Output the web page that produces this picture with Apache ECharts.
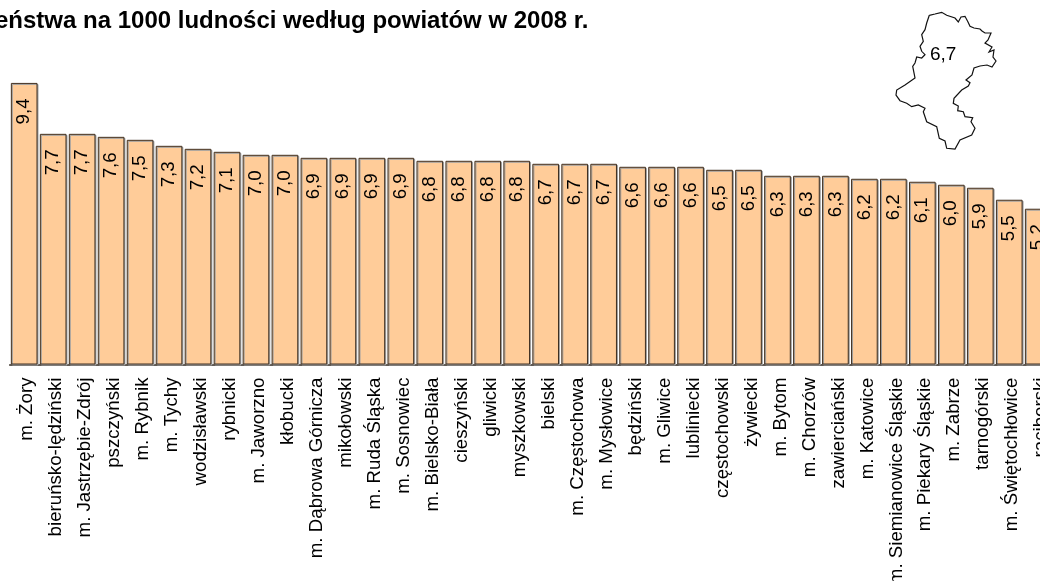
<!DOCTYPE html>
<html><head><meta charset="utf-8">
<style>html,body{margin:0;padding:0;background:#fff}#c{width:1040px;height:581px}</style>
<script src="https://cdn.jsdelivr.net/npm/echarts@6/dist/echarts.min.js"></script>
</head><body><div id="c"></div>
<script>
const categories = ["m. Żory","bieruńsko-lędziński","m. Jastrzębie-Zdrój","pszczyński","m. Rybnik","m. Tychy","wodzisławski","rybnicki","m. Jaworzno","kłobucki","m. Dąbrowa Górnicza","mikołowski","m. Ruda Śląska","m. Sosnowiec","m. Bielsko-Biała","cieszyński","gliwicki","myszkowski","bielski","m. Częstochowa","m. Mysłowice","będziński","m. Gliwice","lubliniecki","częstochowski","żywiecki","m. Bytom","m. Chorzów","zawierciański","m. Katowice","m. Siemianowice Śląskie","m. Piekary Śląskie","m. Zabrze","tarnogórski","m. Świętochłowice","raciborski"];
const values = [9.4,7.7,7.7,7.6,7.5,7.3,7.2,7.1,7.0,7.0,6.9,6.9,6.9,6.9,6.8,6.8,6.8,6.8,6.7,6.7,6.7,6.6,6.6,6.6,6.5,6.5,6.3,6.3,6.3,6.2,6.2,6.1,6.0,5.9,5.5,5.2];
const titleText = "eństwa na 1000 ludności według powiatów w 2008 r.";
const regionValue = "6,7";
const outline = [[929.3,15.3],[935,14],[941.7,12.3],[946.7,15.3],[955,18],[958.3,22],[961,17],[965,16.3],[968,22],[970,26.3],[974,28],[980,29],[982,31],[985,33],[991,33],[988,40],[985,43],[992,47],[989,52],[994,50],[993,57],[996,61],[992,67],[987,65],[980,66],[974,68],[972,75],[966,80],[970,82.7],[968.3,86],[961.7,90],[954,98.3],[953.3,103.3],[958.3,106],[957.7,110.7],[963.3,111.7],[965,116.7],[972.7,117.7],[971,121.7],[975,128.3],[971.7,135],[960,140],[955,149],[946.7,148.3],[945,141],[939.3,138.3],[936.7,126.7],[926.7,121.7],[923.3,111.7],[925,108.3],[918.3,105],[911.7,106.7],[906.7,103.3],[900,100.7],[896,95],[896.7,90],[905,85],[915,78],[912.7,66.3],[915,63],[916.7,57],[921.7,58],[925,54.7],[921.7,51.3],[920,46.3],[923.3,41.3],[921.7,34.7],[925,29.7],[926.7,23],[929.3,15.3]];
const chart = echarts.init(document.getElementById('c'), null, {renderer:'canvas'});
chart.setOption({
  animation:false,
  backgroundColor:'#fff',
  textStyle:{fontFamily:'"Liberation Sans"'},
  title:{text:titleText,left:-5,top:9,padding:0,textStyle:{fontFamily:'"Liberation Sans"',fontWeight:'bold',fontSize:24,color:'#000'}},
  grid:{left:9.7,width:1043,top:20,height:344.5,containLabel:false,outerBoundsMode:'none'},
  xAxis:{type:'category',data:categories,
    axisLine:{show:true,lineStyle:{color:'#2e261e',width:1.5}},
    axisTick:{show:false},
    axisLabel:{interval:0,rotate:90,margin:13,fontSize:18.7,color:'#000',fontFamily:'"Liberation Sans"',hideOverlap:false,verticalAlign:'top',lineHeight:6}},
  yAxis:{type:'value',min:0,max:11.5,interval:0.5,show:false,splitLine:{show:false}},
  series:[{type:'bar',data:values,barCategoryGap:'8%',clip:false,
    itemStyle:{color:'#FFCC99',borderColor:'#3f2f20',borderWidth:1,shadowColor:'#a0a0a0',shadowBlur:0,shadowOffsetX:1,shadowOffsetY:1},
    label:{show:true,position:'insideTop',distance:17,rotate:90,align:'right',verticalAlign:'middle',offset:[1.5,0],fontSize:18.7,color:'#000',fontFamily:'"Liberation Sans"',
      formatter:p=>p.value.toFixed(1).replace('.',',')}}],
  graphic:[
    {type:'polyline',silent:true,shape:{points:outline},style:{stroke:'#111',lineWidth:1.2,fill:'none'}},
    {type:'text',silent:true,x:930,y:45,style:{text:regionValue,fontSize:19,fill:'#000',fontFamily:'"Liberation Sans"'}}
  ]
});
</script></body></html>
